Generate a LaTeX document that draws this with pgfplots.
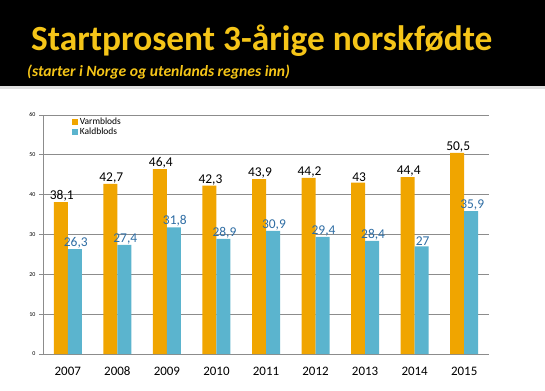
\documentclass[border=0pt]{standalone}
\usepackage{pgfplots}
\pgfplotsset{compat=1.18}
\usepackage{fontspec}
\setmainfont{Carlito}
\definecolor{titley}{HTML}{F5C518}
\definecolor{orangebar}{HTML}{F0A500}
\definecolor{bluebar}{HTML}{5BB4CE}
\definecolor{bluelab}{HTML}{2E6DA4}
\definecolor{gridgray}{HTML}{8C8C8C}
\begin{document}
\begin{tikzpicture}
\useasboundingbox (0bp,0bp) rectangle (545bp,-391bp);
\fill[white] (0bp,0bp) rectangle (545bp,-391bp);
\fill[black] (0bp,0bp) rectangle (545bp,-86bp);
\fill[gray!25] (0bp,-86bp) rectangle (545bp,-88.5bp);
\node[anchor=base west, inner sep=0, text=titley, font=\fontsize{35.5}{38}\selectfont\bfseries] at (31bp,-50bp) {Startprosent 3-årige norskfødte};
\node[anchor=base west, inner sep=0, text=titley, font=\fontsize{15.7}{17}\selectfont\bfseries\itshape] at (27bp,-76bp) {(starter i Norge og utenlands regnes inn)};
\begin{axis}[
  at={(43bp,-354bp)}, anchor=south west,
  scale only axis, width=446bp, height=239bp,
  ymin=0, ymax=60, ytick={0,10,...,60},
  xmin=-0.5, xmax=8.5,
  xtick={0,...,8},
  xticklabels={2007,2008,2009,2010,2011,2012,2013,2014,2015},
  major x tick style={draw=none},
  extra x ticks={-0.5,0.5,...,8.5},
  extra x tick labels={},
  extra x tick style={grid=none, major tick length=5bp, tick style={gridgray, line width=0.8bp}},
  ymajorgrids,
  grid style={gridgray, line width=0.8bp},
  axis x line*=bottom, axis y line*=left,
  axis line style={gridgray, line width=0.8bp},
  tick align=outside,
  major y tick style={gridgray, line width=0.8bp},
  major tick length=4bp,
  /pgf/number format/assume math mode=true,
  yticklabel style={font=\fontsize{6}{7}\selectfont, text=black},
  xticklabel style={font=\fontsize{13}{15}\selectfont, text=black, text height=9bp, text depth=1bp, anchor=north, yshift=-5bp},
  ybar=0pt, bar width=14bp,
  nodes near coords={\pgfmathprintnumber[use comma,fixed,precision=1]{\pgfplotspointmeta}},
  every node near coord/.append style={font=\fontsize{13.5}{15}\selectfont, anchor=south, inner sep=0.5bp, xshift=1bp},
  legend style={at={(0.062,1)}, anchor=north west, draw=none, fill=none, font=\fontsize{9.5}{10}\selectfont, row sep=-2.5bp, inner sep=1bp},
  legend cell align=left,
  legend image code/.code={\fill[#1] (0bp,-3bp) rectangle (6bp,3bp);},
]
\addplot[fill=orangebar, draw=none, every node near coord/.append style={text=black}] coordinates {
(0,38.1) (1,42.7) (2,46.4) (3,42.3) (4,43.9) (5,44.2) (6,43) (7,44.4) (8,50.5)};
\addplot[fill=bluebar, draw=none, every node near coord/.append style={text=bluelab}] coordinates {
(0,26.3) (1,27.4) (2,31.8) (3,28.9) (4,30.9) (5,29.4) (6,28.4) (7,27) (8,35.9)};
\legend{Varmblods, Kaldblods}
\end{axis}
\end{tikzpicture}
\end{document}
